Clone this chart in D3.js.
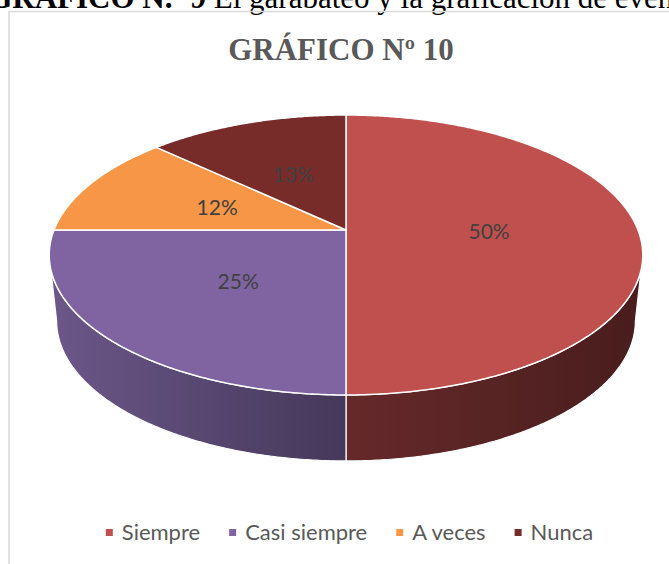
<!DOCTYPE html>
<html>
<head>
<meta charset="utf-8">
<script src="https://cdn.jsdelivr.net/npm/d3@7"></script>
<style>
  html, body { margin: 0; padding: 0; background: #ffffff; overflow: hidden; }
  svg { display: block; }
</style>
</head>
<body>
<svg id="chart" width="669" height="564"></svg>
<script>
// ---- data ----
const categories = ["Siempre", "Casi siempre", "A veces", "Nunca"];
const values = [50, 25, 12, 13];
const valueLabels = ["50%", "25%", "12%", "13%"];
const topColors = ["#C0504D", "#8064A2", "#F79646", "#772C2A"];
const sideColorsLight = ["#66292A", "#6C5789", "#C2742F", "#5A1F1E"];
const sideColorsDark = ["#491D1D", "#45385A", "#8F5522", "#3A1414"];
const chartTitle = "GRÁFICO Nº 10";
const captionBold = "GRÁFICO N.º 9";
const captionRest = " El garabateo y la graficación de eventos";

// ---- geometry (3D pie projection) ----
const cx = 346, cy = 230;   // projected pie centre
const A = 292, B = 135.5;   // horizontal / depth radii
const k = 0.1786;           // perspective strength
const H = 66;               // thickness
const shrink = 0.975;       // bottom face slightly smaller

function proj(a, f, bottom) {
  const u = f * Math.sin(a), v = f * Math.cos(a);
  const s = 1 / (1 + k * v);
  let X = cx + A * u * s, Y = cy - B * v * s;
  if (bottom) { X = cx + (X - cx) * shrink; Y += H; }
  return [X, Y];
}
function arcPts(a0, a1, bottom) {
  const n = Math.max(2, Math.ceil(Math.abs(a1 - a0) / (Math.PI / 360)));
  const pts = [];
  for (let i = 0; i <= n; i++) pts.push(proj(a0 + (a1 - a0) * i / n, 1, bottom));
  return pts;
}

const svg = d3.select("#chart");
const color = d3.scaleOrdinal().domain(categories).range(topColors);
const pie = d3.pie().sort(null).value(d => d.value);
const data = categories.map((c, i) => ({ cat: c, value: values[i], label: valueLabels[i], i }));
const arcs = pie(data);
const line = d3.line();

// ---- caption (cut off at top, as in the source page) and frame ----
const cap = svg.append("text")
  .attr("y", 8)
  .attr("font-family", "'Liberation Serif', 'Times New Roman', serif")
  .attr("font-size", 31).attr("fill", "#000");
const capBold = cap.append("tspan").attr("font-weight", "bold").text(captionBold);
cap.append("tspan").text(captionRest);
const boldW = capBold.node().getComputedTextLength();
cap.attr("x", 206 - boldW);

svg.append("rect")
  .attr("x", 9).attr("y", 11.5).attr("width", 700).attr("height", 600)
  .attr("fill", "none").attr("stroke", "#D9D9D9").attr("stroke-width", 1.5);

// ---- gradients for side walls ----
const defs = svg.append("defs");
arcs.forEach((d, i) => {
  const g = defs.append("linearGradient").attr("id", "side" + i)
    .attr("gradientUnits", "userSpaceOnUse");
  if (i === 1) {
    g.attr("x1", 50).attr("x2", 346).attr("y1", 0).attr("y2", 0);
  } else {
    g.attr("x1", 346).attr("x2", 640).attr("y1", 0).attr("y2", 0);
  }
  g.append("stop").attr("offset", "0%").attr("stop-color", sideColorsLight[i]);
  g.append("stop").attr("offset", "100%").attr("stop-color", sideColorsDark[i]);
});

// ---- side walls (visible front arc only) ----
const visLo = Math.PI / 2 + Math.asin(k);
const visHi = 3 * Math.PI / 2 - Math.asin(k);
arcs.forEach((d, i) => {
  const lo = Math.max(d.startAngle, visLo), hi = Math.min(d.endAngle, visHi);
  if (hi <= lo) return;
  const pts = arcPts(lo, hi, false).concat(arcPts(hi, lo, true));
  svg.append("path")
    .attr("d", line(pts) + "Z")
    .attr("fill", "url(#side" + i + ")")
    .attr("stroke", "#ffffff").attr("stroke-width", 1.2)
    .attr("stroke-linejoin", "round");
});

// ---- top faces ----
arcs.forEach(d => {
  const pts = [[cx, cy]].concat(arcPts(d.startAngle, d.endAngle, false));
  svg.append("path")
    .attr("d", line(pts) + "Z")
    .attr("fill", color(d.data.cat))
    .attr("stroke", "#ffffff").attr("stroke-width", 1.5)
    .attr("stroke-linejoin", "round");
});

// ---- value labels ----
arcs.forEach(d => {
  const mid = (d.startAngle + d.endAngle) / 2;
  const p = proj(mid, 0.49, false);
  svg.append("text")
    .attr("x", p[0]).attr("y", p[1])
    .attr("text-anchor", "middle").attr("dominant-baseline", "central")
    .attr("font-family", "Lato, 'Open Sans', sans-serif")
    .attr("font-size", 21).attr("fill", "#404040")
    .text(d.data.label);
});

// ---- title ----
svg.append("text")
  .attr("x", 341).attr("y", 60)
  .attr("text-anchor", "middle")
  .attr("font-family", "'Liberation Serif', 'Times New Roman', serif")
  .attr("font-weight", "bold").attr("font-size", 31)
  .attr("fill", "#595959")
  .text(chartTitle);

// ---- legend ----
const legend = svg.append("g");
const items = legend.selectAll("g").data(categories).join("g");
items.append("rect").attr("width", 7).attr("height", 7).attr("y", 529)
  .attr("fill", d => color(d));
items.append("text").attr("x", 16).attr("y", 540)
  .attr("font-family", "Lato, 'Open Sans', sans-serif")
  .attr("font-size", 22).attr("fill", "#595959")
  .text(d => d);
const widths = [];
items.each(function () {
  widths.push(d3.select(this).select("text").node().getComputedTextLength());
});
const total = widths.reduce((s, w) => s + 16 + w, 0) + 29 * (widths.length - 1);
let xPos = 349.5 - total / 2;
items.each(function (d, i) {
  d3.select(this).attr("transform", `translate(${xPos},0)`);
  xPos += 16 + widths[i] + 29;
});
</script>
</body>
</html>
